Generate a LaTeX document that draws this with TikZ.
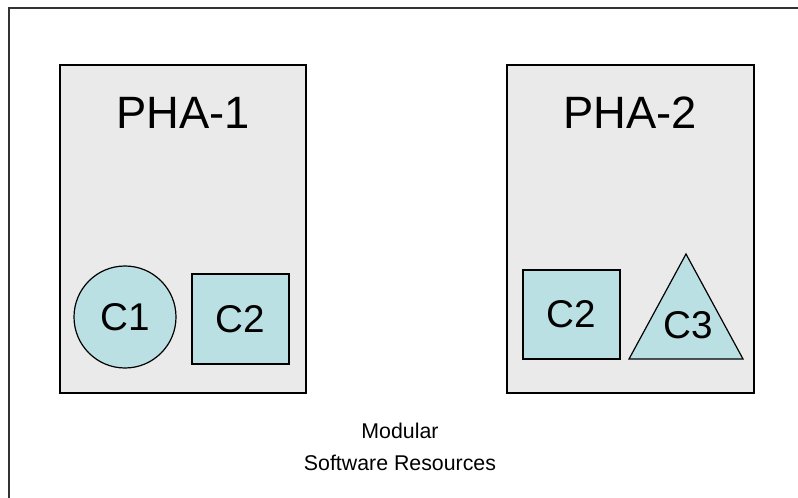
\documentclass[tikz,border=0pt]{standalone}
\usepackage{fontspec}
\setmainfont{Liberation Sans}
\usepackage{tikz}
\usetikzlibrary{calc}

\definecolor{boxgray}{HTML}{EAEAEA}
\definecolor{compcyan}{HTML}{BBE0E3}

\tikzset{
  host/.style={draw=black,line width=1.1pt,fill=boxgray},
  comp/.style={draw=black,line width=0.9pt,fill=compcyan},
}

\begin{document}
\begin{tikzpicture}[x=0.75pt,y=-0.75pt]
            \useasboundingbox (0,0) rectangle (798,498);
            \clip (0,0) rectangle (798,498);
            % outer frame runs past the right and bottom edges
            \coordinate (tl) at (9,8);
            \coordinate (br) at (820,520);
            \draw[draw=black!80,line width=0.8pt] (tl) rectangle (br);

            % hosts
            \coordinate (p1a) at (60,65);
            \coordinate (p1b) at (306,393);
            \coordinate (p2a) at (507,65);
            \coordinate (p2b) at (754,393);
            \draw[host] (p1a) rectangle (p1b);
            \draw[host] (p2a) rectangle (p2b);
            \node[font=\fontsize{34}{40}\selectfont] (pha1) at (183,113) {PHA-1};
            \node[font=\fontsize{34}{40}\selectfont] (pha2) at (630,113) {PHA-2};

            % components on PHA-1
            \coordinate (c1) at (125,317);
            \draw[comp] (c1) circle (51);
            \node[font=\fontsize{29}{34}\selectfont] (c1lbl) at (c1) {C1};
            \draw[comp] (192,274) rectangle (289,364);
            \node[font=\fontsize{29}{34}\selectfont] (c2lbl) at (240.5,319) {C2};

            % components on PHA-2
            \draw[comp] (523,270) rectangle (620,359);
            \node[font=\fontsize{29}{34}\selectfont] (c2blbl) at (571.5,314.5) {C2};
            \coordinate (ta) at (686,254);
            \coordinate (tb) at (629,359);
            \coordinate (tc) at (743,359);
            \draw[comp,line join=miter] (ta) -- (tb) -- (tc) -- cycle;
            \node[font=\fontsize{29}{34}\selectfont] (c3lbl) at (688,325) {C3};

            \node[font=\fontsize{16}{24}\selectfont,align=center] (mod) at (400,447) {Modular\\Software Resources};

        \end{tikzpicture}
\end{document}
